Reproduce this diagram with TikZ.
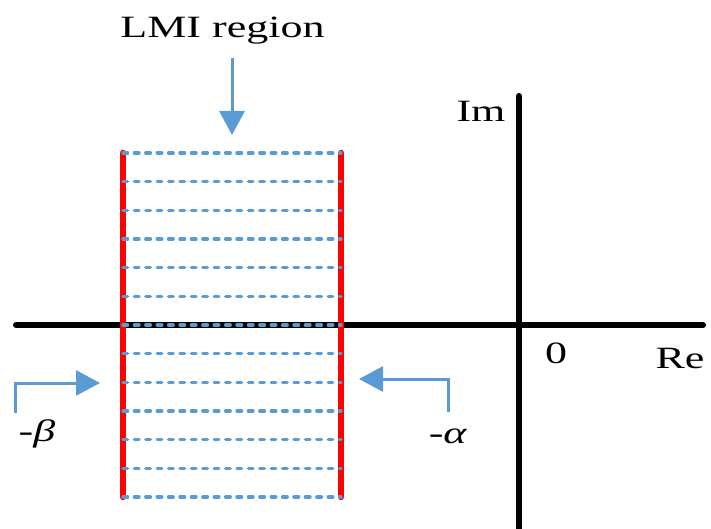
\documentclass[tikz,border=0pt]{standalone}
\usepackage{fontspec}
\setmainfont{Liberation Serif}
\usepackage{xcolor}
\usetikzlibrary{arrows.meta,positioning}

\definecolor{lmiblue}{RGB}{91,155,213}
\definecolor{lmired}{RGB}{255,0,0}

\begin{document}
\begin{tikzpicture}[x=0.5pt,y=-0.5pt,
  axis/.style={line width=3pt,line cap=round},
  bound/.style={line width=3.3pt,lmired,line cap=round},
  hatch/.style={line width=1.7pt,lmiblue,line cap=round,dash pattern=on 2.3pt off 3.4pt},
  pointer/.style={line width=1.5pt,lmiblue,-{Triangle[length=12pt,width=12.5pt]}},
  lbl/.style={inner sep=0pt,anchor=base,xscale=1.42,font=\fontsize{15.5}{18}\selectfont}]
\useasboundingbox (0,0) rectangle (711,529);
% axes
\coordinate (reL) at (16,325);
\coordinate (reR) at (703,325);
\coordinate (imT) at (519,96);
\coordinate (imB) at (519,535);
\draw[axis] (reL) -- (reR);
\draw[axis] (imB) -- (imT);
\node[lbl] (im) at (481,122) {Im};
\node[lbl] (zero) at (556,363) {0};
\node[lbl] (re) at (680,368) {Re};
% region bounds
\coordinate (betaT) at (123,153);
\coordinate (betaB) at (123,497);
\coordinate (alphaT) at (341,153);
\coordinate (alphaB) at (341,497);
\draw[bound] (betaT) -- (betaB);
\draw[bound] (alphaT) -- (alphaB);
\foreach \k in {0,...,12}{
  \draw[hatch] (123,{153+\k*28.667}) -- (341,{153+\k*28.667});
}
% labels and pointers
\node[lbl] (lmi) at (222.5,38) {LMI region};
\coordinate (lmiA) at (232,58);
\coordinate (lmiB) at (232,135);
\draw[pointer] (lmiA) -- (lmiB);
\node[lbl] (beta) at (37,441) {-\textit{β}};
\coordinate (betaA) at (15,413);
\coordinate (betaC) at (100,383);
\draw[pointer] (betaA) |- (betaC);
\node[lbl] (alpha) at (448,443) {-\textit{α}};
\coordinate (alphaA) at (448,412);
\coordinate (alphaC) at (359,379);
\draw[pointer] (alphaA) |- (alphaC);
\end{tikzpicture}
\end{document}
